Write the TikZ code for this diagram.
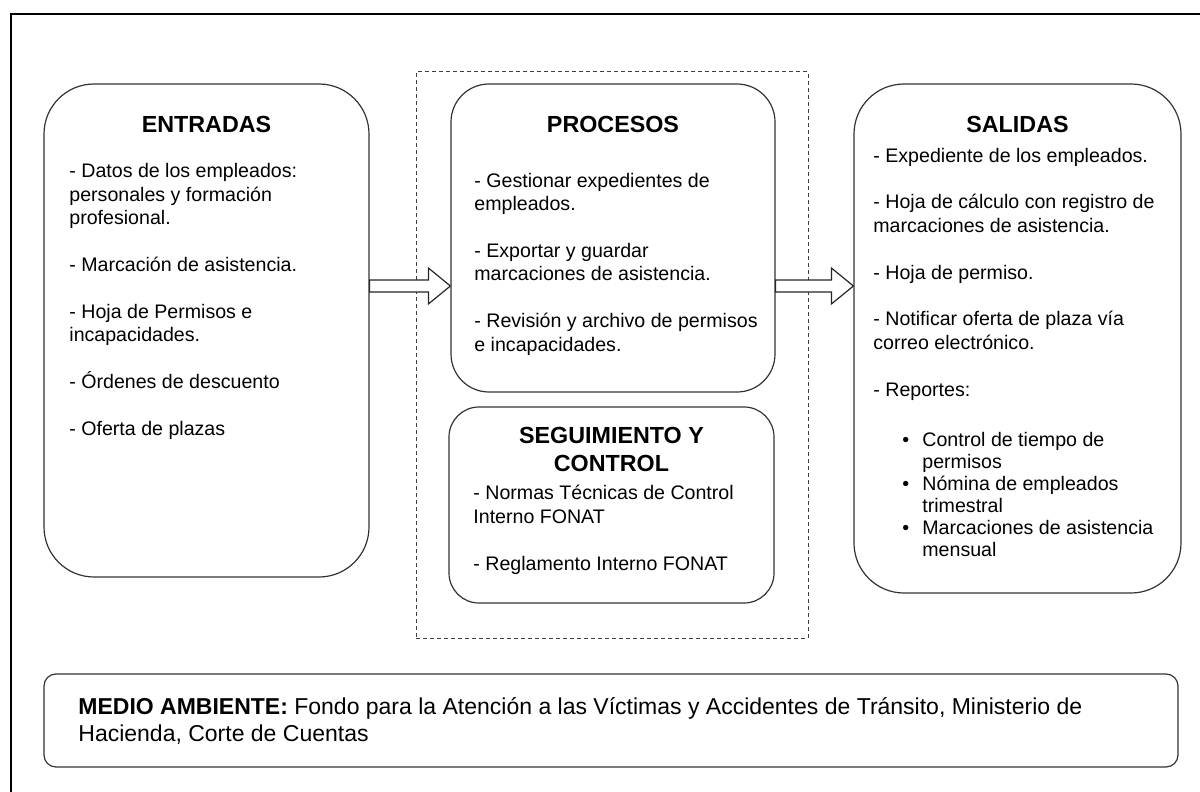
\documentclass[tikz,border=0pt]{standalone}
\usepackage{fontspec}
\setmainfont{Liberation Sans}
\usetikzlibrary{fit,calc}

\tikzset{
	box/.style={draw=black!80, line width=0.6pt, inner sep=0pt},
	titletext/.style={font=\fontsize{11.65pt}{14pt}\selectfont\bfseries, align=center, anchor=base, inner sep=0pt},
	bodytext/.style={font=\fontsize{9.8pt}{11.7pt}\selectfont, align=left, anchor=base west, inner sep=0pt},
	listtext/.style={font=\fontsize{9.8pt}{11pt}\selectfont, align=left, anchor=base west, inner sep=0pt},
	blockarr/.style={draw=black!85, fill=white, line width=0.6pt},
}
\newcommand{\blankline}{\\[11.7pt]}
\newcommand{\itembullet}{\makebox[10pt][l]{\textbullet}}
\newcommand{\blockarrow}[2]{%
	\draw[blockarr] (#1) ++(0,-6) -- ($(#2)+(-22,-6)$) -- ($(#2)+(-22,-18)$) -- (#2)
		-- ($(#2)+(-22,18)$) -- ($(#2)+(-22,6)$) -- ($(#1)+(0,6)$) -- cycle;}

\begin{document}
\begin{tikzpicture}[x=0.5pt,y=-0.5pt]
			\useasboundingbox (0,0) rectangle (1200,792);
			\draw[line width=0.6pt] (11,792) -- (11,14) -- (1200,14);
			\node[box, draw=black!75, line width=0.5pt, dash pattern=on 2pt off 1.5pt, fit={(416,72) (808,638)}] (core) {};
			\node[box, rounded corners=25pt, fit={(44,84) (369,577)}] (ent) {};
			\node[box, rounded corners=19pt, fit={(451,84) (775,392)}] (proc) {};
			\node[box, rounded corners=15pt, fit={(449,407) (774,603)}] (seg) {};
			\node[box, rounded corners=25pt, fit={(854,84) (1181,593)}] (sal) {};
			\node[box, rounded corners=6pt, fit={(44,674) (1178,767)}] (env) {};
			% anchors sit on the last line of each text
			\node[titletext] (enttitle) at (206.5,133) {ENTRADAS};
			\node[titletext] (proctitle) at (613,133) {PROCESOS};
			\node[titletext] (segtitle) at (611.5,471) {SEGUIMIENTO Y\\CONTROL};
			\node[titletext] (saltitle) at (1017.5,133) {SALIDAS};
			\node[bodytext] (enttext) at (69,435) {- Datos de los empleados:\\personales y formación\\profesional.\blankline
				- Marcación de asistencia.\blankline
				- Hoja de Permisos e\\incapacidades.\blankline
				- Órdenes de descuento\blankline
				- Oferta de plazas};
			\node[bodytext] (proctext) at (474,351) {- Gestionar expedientes de\\empleados.\blankline
				- Exportar y guardar\\marcaciones de asistencia.\blankline
				- Revisión y archivo de permisos\\e incapacidades.};
			\node[bodytext] (segtext) at (473,570) {- Normas Técnicas de Control\\Interno FONAT\blankline
				- Reglamento Interno FONAT};
			\node[bodytext] (saltext) at (873,396) {- Expediente de los empleados.\blankline
				- Hoja de cálculo con registro de\\marcaciones de asistencia.\blankline
				- Hoja de permiso.\blankline
				- Notificar oferta de plaza vía\\correo electrónico.\blankline
				- Reportes:};
			\node[listtext] (sallist) at (902,556) {\itembullet Control de tiempo de\\\hspace*{10pt}permisos\\
				\itembullet Nómina de empleados\\\hspace*{10pt}trimestral\\
				\itembullet Marcaciones de asistencia\\\hspace*{10pt}mensual};
			\node[bodytext, font=\fontsize{11.5pt}{13.5pt}\selectfont] (envtext) at (78,741) {\textbf{MEDIO AMBIENTE:} Fondo para la Atención a las Víctimas y Accidentes de Tránsito, Ministerio de\\Hacienda, Corte de Cuentas};
			\coordinate (mid) at (0,286);
			\blockarrow{ent.east |- mid}{proc.west |- mid}
			\blockarrow{proc.east |- mid}{sal.west |- mid}
\end{tikzpicture}
\end{document}
